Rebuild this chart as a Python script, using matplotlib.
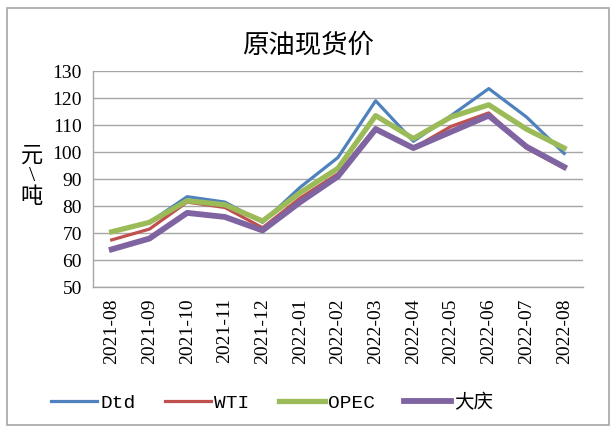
import matplotlib
matplotlib.use("Agg")
import matplotlib.pyplot as plt
from matplotlib.patches import Rectangle

plt.rcParams['font.family'] = ['Liberation Serif', 'Noto Sans CJK SC', 'DejaVu Sans']

months = ["2021-08", "2021-09", "2021-10", "2021-11", "2021-12", "2022-01", "2022-02",
          "2022-03", "2022-04", "2022-05", "2022-06", "2022-07", "2022-08"]
dtd = [70.5, 74, 83.5, 81.5, 74, 87, 98, 119, 104, 113.5, 123.5, 113, 99.5]
wti = [67.5, 71.5, 81.5, 79.5, 72, 83, 92, 109, 101.5, 109.5, 114.5, 101.5, 94]
opec = [70.5, 74, 82, 80.5, 74.5, 85, 94, 113.5, 105, 113, 117.5, 108.5, 101.5]
daqing = [64, 68, 77.5, 76, 71, 81.5, 91, 108.5, 101.5, 107.5, 113.5, 102, 94.5]

fig = plt.figure(figsize=(6.15, 4.28), dpi=100)
ax = fig.add_axes([0.151, 0.329, 0.797, 0.505])

x = list(range(len(months)))
ax.plot(x, dtd, color="#4F81BD", lw=2.3, label="Dtd")
ax.plot(x, wti, color="#C0504D", lw=2.3, label="WTI")
ax.plot(x, opec, color="#9BBB59", lw=3.8, label="OPEC")
ax.plot(x, daqing, color="#8064A2", lw=4.2, label="大庆")

ax.set_xlim(-0.5, len(months) - 0.5)
ax.set_ylim(50, 130)
ax.set_yticks(range(50, 131, 10))
ax.set_xticks(x)
ax.set_xticklabels(months, rotation=90, fontsize=14)
ax.tick_params(axis='y', labelsize=14, length=0, pad=8)
ax.tick_params(axis='x', length=0, pad=8)
ax.yaxis.grid(True, color="#A6A6A6", lw=1)
ax.set_axisbelow(True)
for s in ["top", "right"]:
    ax.spines[s].set_visible(False)
for s in ["left", "bottom"]:
    ax.spines[s].set_color("#A6A6A6")
    ax.spines[s].set_linewidth(1)

fig.text(0.5, 0.895, "原油现货价", ha="center", va="center", fontsize=19,
         weight='medium', family=['Noto Sans CJK SC', 'DejaVu Sans'])
fig.text(0.052, 0.585, "元\n\\\n吨", ha="center", va="center", fontsize=16,
         linespacing=1.05, family=['Liberation Serif', 'Noto Sans CJK SC'])

leg = fig.legend(loc="center", bbox_to_anchor=(0.442, 0.058), ncol=4, frameon=False,
                 prop={'family': ['Liberation Mono', 'Noto Sans CJK SC'], 'size': 14},
                 handlelength=2.4, handletextpad=0.15, columnspacing=1.5)

fig.patches.append(Rectangle((0.011, 0.007), 0.979, 0.975, transform=fig.transFigure,
                             fill=False, edgecolor="#A6A6A6", lw=1.2))

fig.savefig("out.png", dpi=100)
